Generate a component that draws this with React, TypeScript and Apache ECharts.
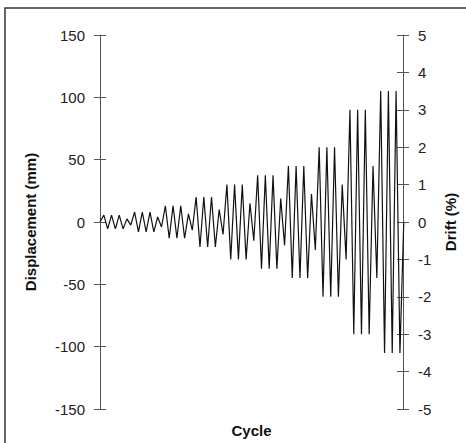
import React, { useEffect, useRef } from "react";
import * as echarts from "echarts";

// Displacement (mm) at each successive peak of the loading protocol
const displacementPeaks: number[] = [
  0,
  5.5, -5.5, 5.5, -5.5, 5.5, -5.5, 2.5, -2.5,
  8, -8, 8, -8, 8, -8, 4, -4,
  13, -13, 13, -13, 13, -13, 6.5, -6.5,
  20, -20, 20, -20, 20, -20, 10, -10,
  30, -30, 30, -30, 30, -30, 15, -15,
  37.5, -37.5, 37.5, -37.5, 37.5, -37.5, 18.75, -18.75,
  45, -45, 45, -45, 45, -45, 22.5, -22.5,
  60, -60, 60, -60, 60, -60, 30, -30,
  90, -90, 90, -90, 90, -90, 45, -45,
  105, -105, 105, -105, 105, -105,
  0,
];

const leftTicks = { min: -150, max: 150, interval: 50 };
const rightTicks = { min: -5, max: 5, interval: 1 };

const FONT = "'Liberation Sans', Arial, sans-serif";

export default function App() {
  const ref = useRef<HTMLDivElement>(null);
  useEffect(() => {
    document.body.style.margin = "0";
    if (!ref.current) return;
    const chart = echarts.init(ref.current, null, { renderer: "svg" });
    const seriesData = displacementPeaks.map((v, i) => [i, v]);
    const axisColor = "#555";
    const labelStyle = { color: "#222", fontSize: 15, fontFamily: FONT };
    const nameStyle = { color: "#111", fontSize: 15, fontWeight: "bold" as const, fontFamily: FONT };
    chart.setOption({
      animation: false,
      grid: { left: 100, right: 56, top: 35, bottom: 28, containLabel: false },
      xAxis: {
        type: "value",
        min: 0,
        max: 78.8,
        axisLine: { show: false },
        axisTick: { show: false },
        axisLabel: { show: false },
        splitLine: { show: false },
        name: "Cycle",
        nameLocation: "middle",
        nameGap: 14,
        nameTextStyle: nameStyle,
      },
      yAxis: [
        {
          type: "value",
          position: "left",
          min: leftTicks.min,
          max: leftTicks.max,
          interval: leftTicks.interval,
          axisLine: { show: true, onZero: false, lineStyle: { color: axisColor, width: 1 } },
          axisTick: { show: true, inside: false, length: 6, lineStyle: { color: axisColor } },
          axisLabel: { ...labelStyle, margin: 15 },
          splitLine: { show: false },
          name: "Displacement (mm)",
          nameLocation: "middle",
          nameRotate: 90,
          nameGap: 62,
          nameTextStyle: nameStyle,
        },
        {
          type: "value",
          position: "left",
          min: leftTicks.min,
          max: leftTicks.max,
          interval: leftTicks.interval,
          axisLine: { show: false, onZero: false },
          axisTick: { show: true, inside: true, length: 6, lineStyle: { color: axisColor } },
          axisLabel: { show: false },
          splitLine: { show: false },
        },
        {
          type: "value",
          position: "right",
          min: rightTicks.min,
          max: rightTicks.max,
          interval: rightTicks.interval,
          axisLine: { show: true, onZero: false, lineStyle: { color: axisColor, width: 1 } },
          axisTick: { show: true, inside: false, length: 6, lineStyle: { color: axisColor } },
          axisLabel: { ...labelStyle, margin: 15 },
          splitLine: { show: false },
          name: "Drift (%)",
          nameLocation: "middle",
          nameRotate: 90,
          nameGap: 40,
          nameTextStyle: nameStyle,
        },
        {
          type: "value",
          position: "right",
          min: rightTicks.min,
          max: rightTicks.max,
          interval: rightTicks.interval,
          axisLine: { show: false, onZero: false },
          axisTick: { show: true, inside: true, length: 6, lineStyle: { color: axisColor } },
          axisLabel: { show: false },
          splitLine: { show: false },
        },
      ],
      graphic: [
        {
          type: "rect",
          shape: { x: 5, y: 8, width: 470, height: 445 },
          style: { fill: "none", stroke: "#333", lineWidth: 1.5 },
          silent: true,
        },
      ],
      series: [
        {
          type: "line",
          yAxisIndex: 0,
          data: seriesData,
          showSymbol: false,
          symbol: "none",
          clip: true,
          lineStyle: { color: "#111", width: 1.2 },
        },
      ],
    });
    return () => chart.dispose();
  }, []);
  return <div ref={ref} style={{ width: 466, height: 443 }} />;
}
